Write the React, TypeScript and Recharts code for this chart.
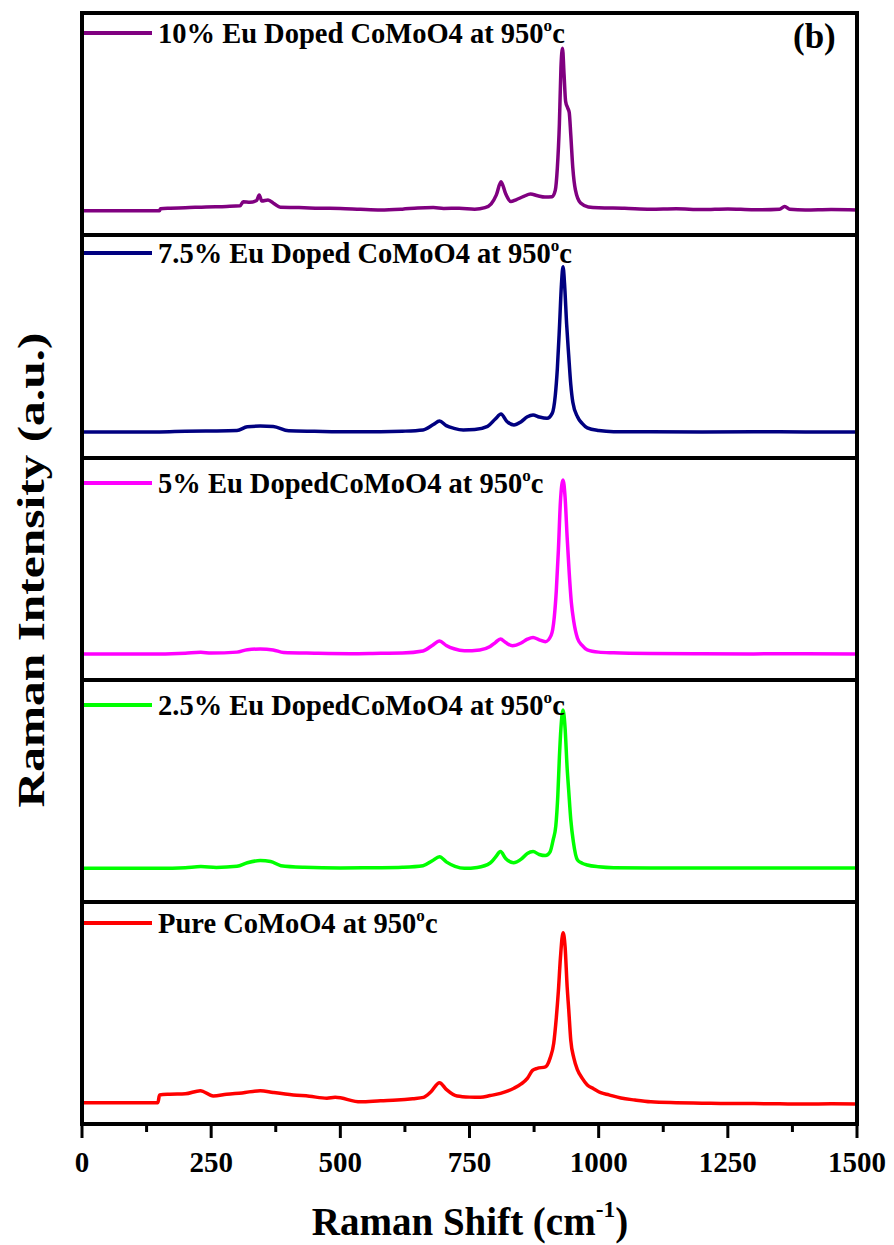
import { LineChart, Line, XAxis, YAxis, Legend } from 'recharts';

// Raman spectra of CoMoO4 samples, top panel to bottom panel
const sampleNames = [
  '10% Eu Doped CoMoO4',
  '7.5% Eu Doped CoMoO4',
  '5% Eu DopedCoMoO4',
  '2.5% Eu DopedCoMoO4',
  'Pure CoMoO4',
];
const sampleColors = ['#800080', '#000080', '#ff00ff', '#00ff00', '#ff0000'];

const eu10Shift = [0, 100, 150, 152, 171, 200, 240, 280, 306, 312, 325, 338, 343, 348, 360, 372, 384, 420, 460, 500, 539, 578, 620, 650, 680, 700, 730, 760, 780, 792, 802, 811, 820, 830, 840, 855, 868, 882, 896, 910, 916, 920, 924, 927, 930, 933, 936, 940, 943, 946, 950, 955, 965, 980, 1000, 1050, 1100, 1150, 1200, 1250, 1300, 1350, 1360, 1370, 1400, 1450, 1500];
const eu10Intensity = [10.9, 10.9, 10.9, 11.8, 12.0, 12.2, 12.6, 12.8, 13.1, 14.9, 14.7, 15.5, 17.9, 15.2, 15.7, 14.0, 12.4, 12.3, 12.0, 11.9, 11.5, 11.2, 11.6, 12.1, 12.3, 11.9, 12.0, 11.6, 12.3, 14.0, 18.0, 23.9, 18.5, 15.0, 15.8, 17.3, 18.4, 17.6, 17.0, 17.2, 20, 30, 50, 75, 83.7, 72, 60, 57, 55, 45, 30, 20.2, 14.3, 12.6, 12.2, 12.0, 11.6, 11.8, 11.4, 11.7, 11.3, 11.6, 12.8, 11.5, 11.2, 11.4, 11.2];

const eu75Shift = [0, 150, 200, 250, 300, 320, 345, 370, 400, 450, 520, 578, 620, 660, 680, 692, 705, 720, 738, 760, 785, 800, 811, 822, 836, 850, 862, 873, 885, 900, 910, 916, 920, 924, 928, 931, 934, 938, 942, 946, 950, 959, 968, 978, 1000, 1029, 1100, 1200, 1300, 1400, 1500];
const eu75Intensity = [11.7, 11.7, 12.0, 12.1, 12.3, 14.0, 14.3, 14.1, 12.2, 12.0, 11.8, 11.8, 12.0, 12.6, 15.0, 16.6, 14.5, 13.3, 12.6, 12.8, 14.2, 17.5, 19.7, 16.5, 14.8, 16.3, 18.5, 19.3, 18.4, 17.8, 20, 28, 40, 58, 78, 85.8, 78, 60, 46, 33, 25, 18.5, 15.5, 13.5, 12.3, 11.8, 11.8, 11.7, 11.8, 11.7, 11.7];

const eu5Shift = [0, 150, 200, 230, 250, 300, 320, 345, 370, 390, 450, 520, 578, 620, 660, 678, 692, 705, 720, 740, 770, 790, 800, 810, 820, 833, 850, 862, 873, 885, 897, 908, 914, 918, 922, 926, 931, 935, 939, 943, 947, 952, 959, 968, 978, 1000, 1029, 1100, 1200, 1300, 1400, 1500];
const eu5Intensity = [11.7, 11.7, 12.0, 12.4, 12.1, 12.5, 13.6, 13.9, 13.5, 12.3, 12.0, 11.8, 12.0, 12.1, 13.0, 15.5, 17.5, 15.5, 14.0, 13.1, 13.5, 15.0, 16.8, 18.4, 16.8, 15.4, 16.6, 18.3, 19.1, 18.0, 17.2, 20, 28, 40, 58, 80, 89.7, 82, 64, 48, 35, 26, 18.7, 15.5, 13.5, 12.5, 12.2, 11.9, 11.8, 11.7, 11.8, 11.7];

const eu25Shift = [0, 150, 200, 230, 260, 300, 320, 345, 365, 385, 430, 500, 578, 620, 660, 678, 692, 705, 722, 740, 765, 790, 800, 810, 820, 835, 850, 862, 873, 885, 897, 906, 912, 917, 921, 924, 927, 931, 935, 939, 942, 946, 951, 959, 968, 978, 1000, 1029, 1100, 1200, 1300, 1400, 1500];
const eu25Intensity = [15.1, 15.1, 15.4, 15.9, 15.5, 16.0, 17.6, 18.6, 18.2, 16.3, 15.6, 15.3, 15.4, 15.6, 16.3, 18.5, 20.3, 18.0, 16.0, 15.1, 15.5, 17.5, 20.0, 22.6, 19.5, 17.6, 19.2, 21.8, 22.6, 21.3, 20.8, 22.5, 28, 34, 48, 65, 78, 86.1, 78, 60, 50, 37, 27, 18.8, 17.4, 16.6, 15.8, 15.4, 15.3, 15.2, 15.3, 15.2, 15.2];

const pureShift = [0, 100, 147, 150, 170, 200, 229, 254, 280, 310, 345, 370, 409, 440, 474, 490, 539, 578, 610, 640, 661, 675, 692, 705, 726, 750, 771, 790, 810, 836, 850, 862, 872, 881, 897, 906, 913, 918, 922, 926, 931, 935, 939, 942, 946, 952, 959, 968, 978, 990, 1004, 1020, 1043, 1070, 1101, 1150, 1200, 1250, 1300, 1350, 1400, 1450, 1500];
const pureIntensity = [10.0, 10.0, 10.0, 13.5, 13.8, 14.0, 15.4, 13.0, 13.8, 14.4, 15.4, 14.6, 13.5, 12.9, 12.0, 12.4, 10.4, 10.9, 11.2, 11.8, 12.4, 14.8, 19.0, 16.0, 13.0, 12.5, 12.4, 13.2, 14.2, 16.5, 18.4, 20.9, 24.5, 25.4, 26.1, 30, 36.6, 48, 60, 75, 86.2, 80, 62, 52, 38.1, 30, 24.7, 21, 17.9, 16.3, 14.5, 13.5, 12.1, 11.2, 10.4, 10.0, 9.8, 9.6, 9.6, 9.5, 9.4, 9.5, 9.4];

const shiftTicks = [0, 125, 250, 375, 500, 625, 750, 875, 1000, 1125, 1250, 1375, 1500];

const spectra = [
  { shift: eu10Shift, intensity: eu10Intensity },
  { shift: eu75Shift, intensity: eu75Intensity },
  { shift: eu5Shift, intensity: eu5Intensity },
  { shift: eu25Shift, intensity: eu25Intensity },
  { shift: pureShift, intensity: pureIntensity },
];

const serif = '"Liberation Serif", "Times New Roman", serif';
const PLOT_LEFT = 82;
const PLOT_WIDTH = 775;
const SIDE = 40; // room for the end tick labels
const PANEL_HEIGHT = 223;
const PANEL_TOPS = [12, 235, 457, 679, 902];
const LEGEND_CENTERS = [21, 18, 26, 26, 21];
const SEPARATORS = [233, 456, 678, 900];

function PanelLegend({ payload }: any) {
  const item = payload?.[0];
  if (!item) return null;
  return (
    <div style={{ display: 'flex', alignItems: 'center', height: 30, fontFamily: serif, fontWeight: 'bold', fontSize: 28.5, whiteSpace: 'nowrap', color: '#000' }}>
      <span style={{ display: 'inline-block', width: 69, height: 4, background: item.color, marginRight: 6 }} />
      <span>
        {item.value} at 950<sup style={{ fontSize: '0.6em', verticalAlign: '0.7em' }}>o</sup>c
      </span>
    </div>
  );
}

function ShiftTick({ x, y, payload }: any) {
  const major = payload.value % 250 === 0;
  return (
    <g>
      <line x1={x} x2={x} y1={y} y2={y + (major ? 13 : 7)} stroke="#000" strokeWidth={3} />
      {major && (
        <text x={x} y={y + 47} textAnchor="middle" fontFamily={serif} fontWeight="bold" fontSize={29} fill="#000">
          {payload.value}
        </text>
      )}
    </g>
  );
}

export default function App() {
  return (
    <div style={{ position: 'absolute', left: 0, top: 0, width: 894, height: 1245, background: '#fff', fontFamily: serif }}>
      {spectra.map((s, i) => {
        const data = s.shift.map((shift, k) => ({ shift, intensity: s.intensity[k] }));
        const isBottom = i === spectra.length - 1;
        return (
          <div key={sampleNames[i]} style={{ position: 'absolute', left: PLOT_LEFT - SIDE, top: PANEL_TOPS[i], zIndex: 1 }}>
            <LineChart
              width={PLOT_WIDTH + SIDE * 2}
              height={PANEL_HEIGHT + (isBottom ? 70 : 0)}
              data={data}
              margin={{ top: 0, right: SIDE, bottom: 0, left: SIDE }}
            >
              <XAxis
                dataKey="shift"
                type="number"
                domain={[0, 1500]}
                ticks={shiftTicks}
                interval={0}
                hide={!isBottom}
                height={isBottom ? 70 : 0}
                axisLine={false}
                tickLine={false}
                tickSize={0}
                tickMargin={0}
                tick={<ShiftTick />}
              />
              <YAxis hide domain={[0, 100]} />
              <Legend
                content={<PanelLegend />}
                layout="horizontal"
                verticalAlign="middle"
                align="center"
                wrapperStyle={{ top: LEGEND_CENTERS[i] - 15, left: SIDE + 1, width: 700, height: 30 }}
              />
              <Line
                type="monotone"
                dataKey="intensity"
                name={sampleNames[i]}
                stroke={sampleColors[i]}
                strokeWidth={3.5}
                dot={false}
                isAnimationActive={false}
              />
            </LineChart>
          </div>
        );
      })}

      {/* panel frames */}
      <div style={{ position: 'absolute', left: 80, top: 11, width: 779, height: 1115, border: '4px solid #000', boxSizing: 'border-box', zIndex: 2 }} />
      {SEPARATORS.map((y) => (
        <div key={y} style={{ position: 'absolute', left: 80, top: y, width: 779, height: 4, background: '#000', zIndex: 2 }} />
      ))}

      <div style={{ position: 'absolute', left: 793, top: 17, fontWeight: 'bold', fontSize: 35, zIndex: 3 }}>(b)</div>

      <div
        style={{
          position: 'absolute',
          left: 31,
          top: 570,
          transform: 'translate(-50%, -50%) rotate(-90deg) scaleX(1.3)',
          fontWeight: 'bold',
          fontSize: 38,
          whiteSpace: 'nowrap',
        }}
      >
        Raman Intensity (a.u.)
      </div>

      <div
        style={{
          position: 'absolute',
          left: 470,
          top: 1220,
          transform: 'translate(-50%, -50%)',
          fontWeight: 'bold',
          fontSize: 39,
          whiteSpace: 'nowrap',
        }}
      >
        Raman Shift (cm<sup style={{ fontSize: '0.6em', verticalAlign: '0.75em' }}>-1</sup>)
      </div>
    </div>
  );
}
